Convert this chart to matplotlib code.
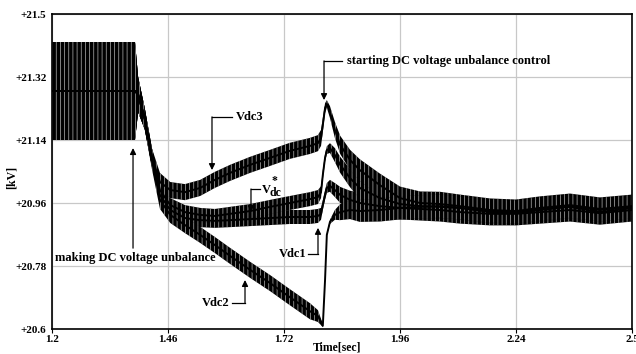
import matplotlib
matplotlib.use("Agg")
import matplotlib.pyplot as plt
import numpy as np

plt.rcParams['font.family'] = ['Liberation Serif', 'DejaVu Serif']
plt.rcParams['font.weight'] = 'bold'
plt.rcParams['hatch.linewidth'] = 0.5

# time base [sec] at the break points of the traces
time_s = [1.200, 1.263, 1.330, 1.386, 1.393, 1.408, 1.424, 1.442, 1.465, 1.498,
          1.532, 1.565, 1.599, 1.644, 1.689, 1.733, 1.778, 1.796, 1.803, 1.807,
          1.812, 1.816, 1.823, 1.834, 1.846, 1.868, 1.890, 1.935, 1.980, 2.025,
          2.070, 2.115, 2.182, 2.240, 2.294, 2.361, 2.428, 2.500]

# centre of each DC voltage trace [kV] and its ripple half-height [kV]
vdc3 = [21.28, 21.28, 21.28, 21.28, 21.27, 21.20, 21.09, 21.02, 20.997, 20.991,
        21.003, 21.026, 21.046, 21.069, 21.089, 21.109, 21.123, 21.131, 21.146, 21.183,
        21.231, 21.243, 21.220, 21.169, 21.126, 21.083, 21.054, 21.011, 20.974, 20.960,
        20.957, 20.951, 20.940, 20.937, 20.946, 20.954, 20.943, 20.951]
vdc3_rip = [0.14, 0.14, 0.14, 0.14, 0.05, 0.03, 0.026, 0.026, 0.023, 0.023,
            0.023, 0.023, 0.023, 0.023, 0.023, 0.023, 0.023, 0.023, 0.023, 0.02,
            0.014, 0.011, 0.017, 0.023, 0.026, 0.029, 0.031, 0.033, 0.033, 0.033,
            0.035, 0.033, 0.033, 0.033, 0.033, 0.033, 0.033, 0.033]

vdc_ref = [21.28, 21.28, 21.28, 21.28, 21.27, 21.20, 21.09, 20.997, 20.954, 20.934,
           20.926, 20.923, 20.929, 20.937, 20.949, 20.960, 20.971, 20.977, 20.991, 21.040,
           21.089, 21.111, 21.117, 21.097, 21.069, 21.031, 21.003, 20.974, 20.957, 20.951,
           20.949, 20.946, 20.934, 20.931, 20.940, 20.949, 20.934, 20.946]
vdc_ref_rip = [0.14, 0.14, 0.14, 0.14, 0.05, 0.03, 0.026, 0.023, 0.02, 0.02,
               0.02, 0.02, 0.02, 0.02, 0.02, 0.02, 0.02, 0.02, 0.017, 0.014,
               0.011, 0.011, 0.014, 0.02, 0.023, 0.026, 0.031, 0.033, 0.033, 0.033,
               0.033, 0.033, 0.033, 0.033, 0.033, 0.033, 0.033, 0.033]

vdc1 = [21.28, 21.28, 21.28, 21.28, 21.27, 21.20, 21.09, 20.983, 20.940, 20.917,
        20.911, 20.909, 20.911, 20.914, 20.917, 20.920, 20.920, 20.923, 20.929, 20.954,
        20.983, 21.003, 21.009, 20.997, 20.983, 20.969, 20.960, 20.951, 20.946, 20.943,
        20.940, 20.934, 20.929, 20.929, 20.934, 20.940, 20.931, 20.940]
vdc1_rip = [0.14, 0.14, 0.14, 0.14, 0.05, 0.03, 0.026, 0.023, 0.02, 0.02,
            0.02, 0.02, 0.02, 0.02, 0.02, 0.02, 0.02, 0.02, 0.017, 0.014,
            0.014, 0.014, 0.017, 0.02, 0.023, 0.026, 0.031, 0.033, 0.033, 0.033,
            0.033, 0.033, 0.033, 0.033, 0.033, 0.033, 0.033, 0.033]

vdc2 = [21.28, 21.28, 21.28, 21.28, 21.27, 21.20, 21.083, 20.969, 20.926, 20.897,
        20.869, 20.840, 20.809, 20.769, 20.731, 20.691, 20.651, 20.637, 20.620, 20.609,
        20.740, 20.869, 20.906, 20.926, 20.934, 20.940, 20.937, 20.940, 20.946, 20.949,
        20.951, 20.946, 20.937, 20.934, 20.943, 20.951, 20.940, 20.949]
vdc2_rip = [0.14, 0.14, 0.14, 0.14, 0.05, 0.03, 0.026, 0.026, 0.023, 0.023,
            0.023, 0.023, 0.023, 0.023, 0.023, 0.023, 0.023, 0.017, 0.009, 0.004,
            0.003, 0.003, 0.006, 0.014, 0.023, 0.026, 0.031, 0.033, 0.033, 0.033,
            0.033, 0.033, 0.033, 0.033, 0.033, 0.033, 0.033, 0.033]

x_ticks = [1.2, 1.46, 1.72, 1.98, 2.24, 2.5]
x_labels = ['1.2', '1.46', '1.72', '1.96', '2.24', '2.5']
y_ticks = [20.6, 20.78, 20.96, 21.14, 21.32, 21.5]
y_labels = ['+20.6', '+20.78', '+20.96', '+21.14', '+21.32', '+21.5']

fig = plt.figure(figsize=(6.36, 3.54), dpi=100)
ax = fig.add_axes([52 / 636, 25 / 354, 580 / 636, 315 / 354])

t = np.array(time_s)
for centre, rip in [(vdc1, vdc1_rip), (vdc_ref, vdc_ref_rip), (vdc3, vdc3_rip), (vdc2, vdc2_rip)]:
    c = np.array(centre)
    r = np.array(rip)
    ax.fill_between(t, c - r, c + r, facecolor='black', edgecolor='#b4b4b4',
                    hatch='||||', linewidth=0, zorder=2)
    ax.plot(t, c, color='black', lw=1.4, zorder=3)

ax.set_xlim(1.2, 2.5)
ax.set_ylim(20.6, 21.5)
ax.set_xticks(x_ticks)
ax.set_xticklabels(x_labels)
ax.set_yticks(y_ticks)
ax.set_yticklabels(y_labels)
ax.tick_params(axis='x', length=3, width=0.8, pad=1, labelsize=8)
ax.tick_params(axis='y', length=0, pad=4, labelsize=8)
ax.grid(True, color='#c8c8c8', lw=0.9)
ax.set_axisbelow(True)
for sp in ax.spines.values():
    sp.set_linewidth(1.2)
    sp.set_color('black')

fig.text(337 / 636, 1 - 347 / 354, 'Time[sec]', ha='center', va='center', fontsize=8.5)
fig.text(12 / 636, 0.5, '[kV]', ha='center', va='center', rotation=90, fontsize=8.5)

aprops = dict(arrowstyle='-|>', color='black', lw=0.9, mutation_scale=9,
              shrinkA=0, shrinkB=0)


def callout(tip, corner, end=None):
    if end is not None:
        ax.plot([end[0], corner[0]], [end[1], corner[1]], color='black', lw=0.9, zorder=4)
    ax.annotate('', xy=tip, xytext=corner, arrowprops=aprops, zorder=4)


callout((1.3816, 21.117), (1.3816, 20.831))
ax.text(1.386, 20.803, 'making DC voltage unbalance', ha='center', va='center', fontsize=9)

callout((1.5586, 21.054), (1.5586, 21.206), (1.6034, 21.206))
ax.text(1.6124, 21.206, 'Vdc3', ha='left', va='center', fontsize=9)

callout((1.8097, 21.254), (1.8097, 21.366), (1.85, 21.366))
ax.text(1.8612, 21.366, 'starting DC voltage unbalance control', ha='left', va='center', fontsize=9)

callout((1.646, 20.934), (1.646, 21.0), (1.6662, 21.0))
ax.text(1.6707, 20.997, 'V', ha='left', va='center', fontsize=9)
ax.annotate('dc', (1.6707, 20.997), xytext=(5.4, -1.8), textcoords='offset points',
            ha='left', va='center', fontsize=8.5)
ax.annotate('*', (1.6707, 20.997), xytext=(7.0, 6.6), textcoords='offset points',
            ha='left', va='center', fontsize=8.5)

callout((1.7962, 20.889), (1.7962, 20.814), (1.7738, 20.814))
ax.text(1.7693, 20.814, 'Vdc1', ha='right', va='center', fontsize=9)

callout((1.6326, 20.74), (1.6326, 20.674), (1.6034, 20.674))
ax.text(1.5967, 20.674, 'Vdc2', ha='right', va='center', fontsize=9)

fig.savefig('out.png', dpi=100)
